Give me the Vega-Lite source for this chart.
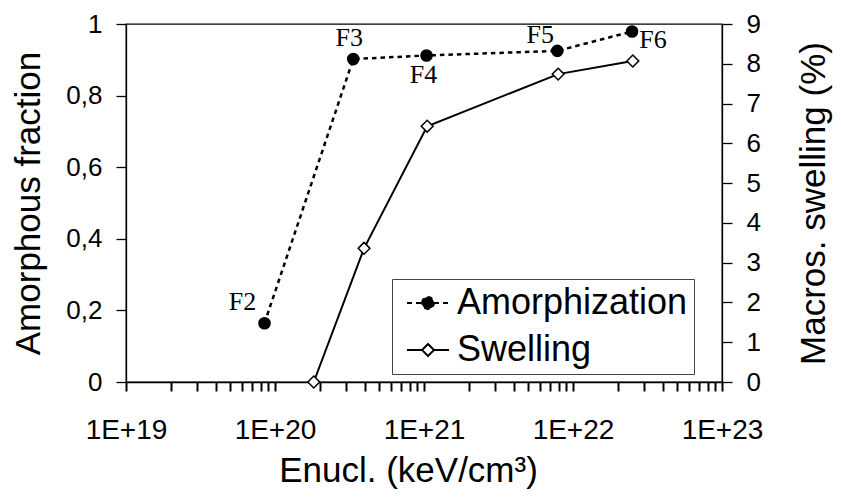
{
  "$schema": "https://vega.github.io/schema/vega-lite/v6.json",
  "width": 596,
  "height": 358,
  "autosize": {"type": "none"},
  "padding": {"left": 126, "top": 24, "right": 119, "bottom": 116},
  "background": "white",
  "datasets": {
    "amorph": [
      {"E": 8.5e19, "frac": 0.164, "label": "F2"},
      {"E": 3.35e20, "frac": 0.902, "label": "F3"},
      {"E": 1.04e21, "frac": 0.912, "label": "F4"},
      {"E": 7.85e21, "frac": 0.925, "label": "F5"},
      {"E": 2.49e22, "frac": 0.979, "label": "F6"}
    ],
    "swell": [
      {"E": 1.82e20, "swelling": 0},
      {"E": 3.96e20, "swelling": 3.36},
      {"E": 1.05e21, "swelling": 6.43},
      {"E": 7.95e21, "swelling": 7.74},
      {"E": 2.52e22, "swelling": 8.07}
    ],
    "legendrows": [{"series": "Amorphization"}, {"series": "Swelling"}]
  },
  "layer": [
    {
      "data": {"name": "amorph"},
      "encoding": {
        "x": {
          "field": "E",
          "type": "quantitative",
          "scale": {"type": "log", "domain": [1e19, 1e23], "nice": false},
          "axis": {
            "title": "Enucl. (keV/cm³)",
            "values": [1e19, 2e19, 3e19, 4e19, 5e19, 6e19, 7e19, 8e19, 9e19, 1e20, 2e20, 3e20, 4e20, 5e20, 6e20, 7e20, 8e20, 9e20, 1e21, 2e21, 3e21, 4e21, 5e21, 6e21, 7e21, 8e21, 9e21, 1e22, 2e22, 3e22, 4e22, 5e22, 6e22, 7e22, 8e22, 9e22, 1e23],
            "labelExpr": "abs(log(datum.value)/LN10 - round(log(datum.value)/LN10)) < 0.01 ? '1E+' + round(log(datum.value)/LN10) : ''",
            "ticks": true,
            "tickSize": 9,
            "tickColor": "#000000",
            "tickWidth": 2,
            "labelFlush": false,
            "labelOverlap": false,
            "labelFontSize": 28,
            "labelPadding": 25,
            "titlePadding": 9,
            "titleX": 282,
            "titleAlign": "center"
          }
        },
        "y": {
          "field": "frac",
          "type": "quantitative",
          "scale": {"domain": [0, 1], "nice": false},
          "axis": {
            "title": "Amorphous fraction",
            "values": [0, 0.2, 0.4, 0.6, 0.8, 1],
            "labelExpr": "replace(format(datum.value, '~g'), '.', ',')",
            "tickSize": 10,
            "labelPadding": 14,
            "titlePadding": 19
          }
        }
      },
      "layer": [
        {"mark": {"type": "line", "color": "black", "strokeWidth": 2.5, "strokeDash": [4.5, 4]}},
        {"mark": {"type": "point", "shape": "circle", "filled": true, "color": "black", "size": 160, "opacity": 1}},
        {
          "transform": [{"filter": "datum.label === 'F2'"}],
          "mark": {"type": "text", "font": "Liberation Serif", "fontSize": 26, "color": "black", "align": "center", "baseline": "middle", "dx": -22, "dy": -21},
          "encoding": {"text": {"field": "label"}}
        },
        {
          "transform": [{"filter": "datum.label === 'F3'"}],
          "mark": {"type": "text", "font": "Liberation Serif", "fontSize": 26, "color": "black", "align": "center", "baseline": "middle", "dx": -4, "dy": -21},
          "encoding": {"text": {"field": "label"}}
        },
        {
          "transform": [{"filter": "datum.label === 'F4'"}],
          "mark": {"type": "text", "font": "Liberation Serif", "fontSize": 26, "color": "black", "align": "center", "baseline": "middle", "dx": -3, "dy": 19},
          "encoding": {"text": {"field": "label"}}
        },
        {
          "transform": [{"filter": "datum.label === 'F5'"}],
          "mark": {"type": "text", "font": "Liberation Serif", "fontSize": 26, "color": "black", "align": "center", "baseline": "middle", "dx": -17, "dy": -16},
          "encoding": {"text": {"field": "label"}}
        },
        {
          "transform": [{"filter": "datum.label === 'F6'"}],
          "mark": {"type": "text", "font": "Liberation Serif", "fontSize": 26, "color": "black", "align": "center", "baseline": "middle", "dx": 21, "dy": 8},
          "encoding": {"text": {"field": "label"}}
        }
      ]
    },
    {
      "data": {"name": "swell"},
      "encoding": {
        "x": {"field": "E", "type": "quantitative", "scale": {"type": "log", "domain": [1e19, 1e23], "nice": false}},
        "y": {
          "field": "swelling",
          "type": "quantitative",
          "scale": {"domain": [0, 9], "nice": false},
          "axis": {
            "orient": "right",
            "title": "Macros. swelling (%)",
            "values": [0, 1, 2, 3, 4, 5, 6, 7, 8, 9],
            "format": "d",
            "tickSize": 10,
            "labelPadding": 14,
            "titleAngle": 270,
            "titleBaseline": "top",
            "titlePadding": 36
          }
        }
      },
      "layer": [
        {"mark": {"type": "line", "color": "black", "strokeWidth": 2}},
        {"mark": {"type": "point", "shape": "diamond", "filled": true, "fill": "white", "stroke": "black", "strokeWidth": 1.5, "size": 140, "opacity": 1}},
        {
          "data": {"name": "legendrows"},
          "transform": [{"filter": "false"}],
          "mark": {"type": "point", "filled": true, "opacity": 1, "strokeWidth": 2},
          "encoding": {
            "shape": {
              "field": "series",
              "type": "nominal",
              "scale": {"domain": ["Amorphization", "Swelling"], "range": ["M-3.5,0L-1,0M-1,0A1,1 0 1,1 1,0A1,1 0 1,1 -1,0ZM1,0L3.5,0", "M-3.5,0L-1,0M-1,0L0,-1L1,0L0,1ZM1,0L3.5,0"]},
              "legend": {
                "title": null,
                "orient": "none",
                "legendX": 266,
                "legendY": 255,
                "labelFont": "Liberation Sans",
                "labelFontSize": 36,
                "labelColor": "black",
                "labelLimit": 400,
                "symbolSize": 144,
                "symbolStrokeWidth": 2,
                "symbolOffset": 12,
                "labelOffset": 11,
                "padding": 6,
                "rowPadding": 11,
                "strokeColor": "#444",
                "fillColor": "white"
              }
            },
            "fill": {
              "field": "series",
              "type": "nominal",
              "scale": {"domain": ["Amorphization", "Swelling"], "range": ["black", "white"]},
              "legend": {
                "title": null,
                "orient": "none",
                "legendX": 266,
                "legendY": 255,
                "labelFont": "Liberation Sans",
                "labelFontSize": 36,
                "labelColor": "black",
                "labelLimit": 400,
                "symbolSize": 144,
                "symbolStrokeWidth": 2,
                "symbolOffset": 12,
                "labelOffset": 11,
                "padding": 6,
                "rowPadding": 11,
                "strokeColor": "#444",
                "fillColor": "white"
              }
            },
            "stroke": {
              "field": "series",
              "type": "nominal",
              "scale": {"domain": ["Amorphization", "Swelling"], "range": ["black", "black"]},
              "legend": {
                "title": null,
                "orient": "none",
                "legendX": 266,
                "legendY": 255,
                "labelFont": "Liberation Sans",
                "labelFontSize": 36,
                "labelColor": "black",
                "labelLimit": 400,
                "symbolSize": 144,
                "symbolStrokeWidth": 2,
                "symbolOffset": 12,
                "labelOffset": 11,
                "padding": 6,
                "rowPadding": 11,
                "strokeColor": "#444",
                "fillColor": "white"
              }
            },
            "strokeDash": {
              "field": "series",
              "type": "nominal",
              "scale": {"domain": ["Amorphization", "Swelling"], "range": [[5, 4], [1, 0]]},
              "legend": {
                "title": null,
                "orient": "none",
                "legendX": 266,
                "legendY": 255,
                "labelFont": "Liberation Sans",
                "labelFontSize": 36,
                "labelColor": "black",
                "labelLimit": 400,
                "symbolSize": 144,
                "symbolStrokeWidth": 2,
                "symbolOffset": 12,
                "labelOffset": 11,
                "padding": 6,
                "rowPadding": 11,
                "strokeColor": "#444",
                "fillColor": "white"
              }
            }
          }
        }
      ]
    }
  ],
  "resolve": {"scale": {"y": "independent"}},
  "config": {
    "view": {"stroke": "black", "strokeWidth": 1.3},
    "axis": {
      "grid": false,
      "ticks": true,
      "domainColor": "black",
      "tickColor": "black",
      "labelColor": "black",
      "titleColor": "black",
      "labelFont": "Liberation Sans",
      "titleFont": "Liberation Sans",
      "labelFontSize": 26,
      "titleFontSize": 35,
      "titleFontWeight": "normal",
      "domainWidth": 1.3,
      "tickWidth": 1.3
    }
  }
}
